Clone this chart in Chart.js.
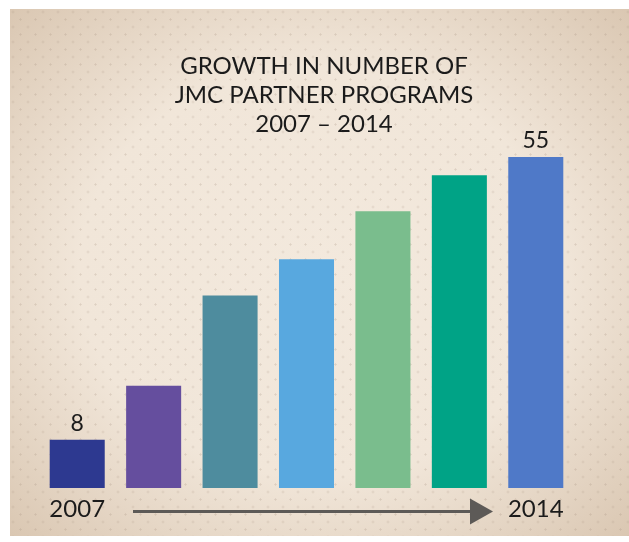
<!DOCTYPE html>
<html>
<head>
<meta charset="utf-8">
<script src="https://cdn.jsdelivr.net/npm/chart.js@4"></script>
<style>
  html, body { margin: 0; padding: 0; background: #fff; }
  #wrap { position: relative; width: 629px; height: 542px; }
  #panel {
    position: absolute; left: 10px; top: 9px; width: 619px; height: 527px;
    background-image:
      radial-gradient(circle, rgba(160,140,120,0.24) 0.9px, transparent 1.3px),
      radial-gradient(circle, rgba(160,140,120,0.24) 0.9px, transparent 1.3px),
      radial-gradient(ellipse at 50% 50%, #f3e9dd 0%, #f1e6d9 55%, #dac7b2 100%);
    background-size: 15px 15px, 15px 15px, 100% 100%;
    background-position: 3px 3px, 10.5px 10.5px, 0 0;
  }
  #chart { position: absolute; left: 0; top: 0; }
</style>
</head>
<body>
<div id="wrap">
  <div id="panel"></div>
  <canvas id="chart" width="629" height="542"></canvas>
</div>
<script>
  const TITULO = ['GROWTH IN NUMBER OF', 'JMC PARTNER PROGRAMS', '2007 – 2014'];
  const BARRAS = ['1', '2', '3', '4', '5', '6', '7'];
  const PROGRAMAS = [8, 17, 32, 38, 46, 52, 55];
  const ROTULOS_ANO = ['2007', '2014'];
  const CORES = ['#2d3990', '#654e9e', '#4e8c9e', '#58a8df', '#7abd8d', '#00a386', '#4f79c8'];
  const FONTE = 'Lato, "Open Sans", sans-serif';

  // rotulos, titulo e seta desenhados sobre o grafico
  const decoracao = {
    id: 'decoracao',
    afterDatasetsDraw(chart) {
      const { ctx, scales: { x, y } } = chart;
      const ult = PROGRAMAS.length - 1;
      ctx.save();
      ctx.fillStyle = '#1b1b1b';
      ctx.textAlign = 'center';
      ctx.textBaseline = 'alphabetic';

      ctx.font = `24px ${FONTE}`;
      TITULO.forEach((linha, i) => ctx.fillText(linha, 324, 74 + i * 29));

      // valores so na primeira e na ultima barra
      ctx.font = `23px ${FONTE}`;
      [0, ult].forEach(i => {
        ctx.fillText(String(PROGRAMAS[i]), x.getPixelForValue(i), y.getPixelForValue(PROGRAMAS[i]) - 9);
      });

      ctx.font = `24px ${FONTE}`;
      ctx.fillText(ROTULOS_ANO[0], x.getPixelForValue(0), 517);
      ctx.fillText(ROTULOS_ANO[1], x.getPixelForValue(ult), 517);

      // seta
      ctx.strokeStyle = '#5d5a57';
      ctx.fillStyle = '#5d5a57';
      ctx.lineWidth = 3;
      ctx.beginPath();
      ctx.moveTo(133, 511.5);
      ctx.lineTo(474, 511.5);
      ctx.stroke();
      ctx.beginPath();
      ctx.moveTo(470, 498.5);
      ctx.lineTo(493, 511.5);
      ctx.lineTo(470, 524.5);
      ctx.closePath();
      ctx.fill();
      ctx.restore();
    }
  };

  new Chart(document.getElementById('chart'), {
    type: 'bar',
    data: {
      labels: BARRAS,
      datasets: [{
        data: PROGRAMAS,
        backgroundColor: CORES,
        borderWidth: 0,
        categoryPercentage: 1,
        barPercentage: 0.72
      }]
    },
    options: {
      responsive: false,
      animation: false,
      layout: { padding: { left: 39, right: 55, top: 127, bottom: 54 } },
      plugins: { legend: { display: false }, tooltip: { enabled: false } },
      scales: {
        x: { display: false },
        y: { display: false, min: 0, max: 60 }
      }
    },
    plugins: [decoracao]
  });
</script>
</body>
</html>
